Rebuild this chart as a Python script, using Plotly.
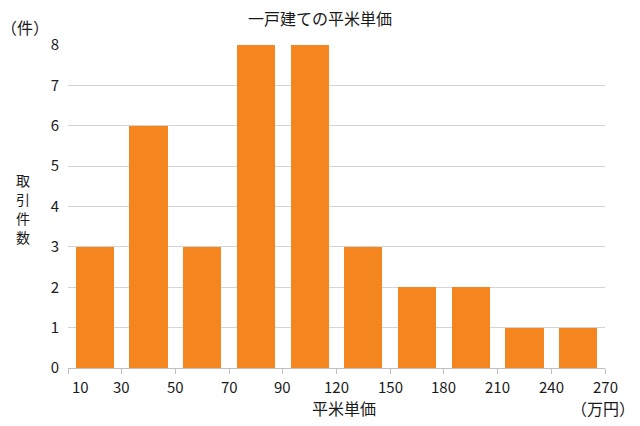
import plotly.graph_objects as go

bin_edges = ["10", "30", "50", "70", "90", "120", "150", "180", "210", "240", "270"]
counts = [3, 6, 3, 8, 8, 3, 2, 2, 1, 1]
y_ticks = [0, 1, 2, 3, 4, 5, 6, 7, 8]
y_title_chars = ["取", "引", "件", "数"]

FONT = "Noto Sans CJK JP"
FS = 15
FS_CJK = 16
TXT = "#1a1a1a"
n = len(counts)
centers = [i + 0.5 for i in range(n)]

W, H = 640, 426
L, R, T, B = 68, 35, 45, 58
pw, ph = W - L - R, H - T - B


def px(xp, yp):
    return (xp - L) / pw, (H - B - yp) / ph


fig = go.Figure()
fig.add_trace(go.Bar(x=centers, y=counts, marker_color="#F5861F", width=0.71,
                     marker_line_width=0))

annotations = []
for i, lab in enumerate(bin_edges):
    xpos = i if i > 0 else 0.24
    annotations.append(dict(x=xpos, y=0, xref="x", yref="y", text=lab, showarrow=False,
                            xanchor="center", yanchor="middle",
                            yshift=-18, font=dict(size=FS, color=TXT, family=FONT)))


def add_text(xp, yp, text, align="center", size=FS_CJK):
    ax, ay = px(xp, yp)
    annotations.append(dict(x=ax, y=ay, xref="paper", yref="paper", text=text,
                            showarrow=False, xanchor="center", yanchor="middle",
                            align=align, borderpad=0,
                            font=dict(size=size, color=TXT, family=FONT)))


add_text(320, 18, "一戸建ての平米単価")
add_text(25, 27, "（件）")
for k, ch in enumerate(y_title_chars):
    add_text(23, 180 + 19 * k, ch, size=14)
add_text(344, 408, "平米単価")
add_text(603, 408, "（万円）")

fig.update_layout(
    width=W, height=H,
    margin=dict(l=L, r=R, t=T, b=B),
    paper_bgcolor="white", plot_bgcolor="white",
    showlegend=False,
    bargap=0,
    annotations=annotations,
    xaxis=dict(range=[0, n], tickmode="array", tickvals=list(range(n + 1)),
               ticktext=[""] * (n + 1), ticks="outside", ticklen=5, tickcolor="#bfbfbf",
               showline=True, linecolor="#bfbfbf", linewidth=1, showgrid=False,
               zeroline=False, fixedrange=True),
    yaxis=dict(range=[0, 8], tickmode="array", tickvals=y_ticks,
               showgrid=True, gridcolor="#d4d4d4", gridwidth=1, zeroline=False,
               ticks="", tickfont=dict(size=FS, color=TXT, family=FONT),
               ticklabelstandoff=8, showline=False),
    font=dict(family=FONT),
)

fig.write_html("out.html")
